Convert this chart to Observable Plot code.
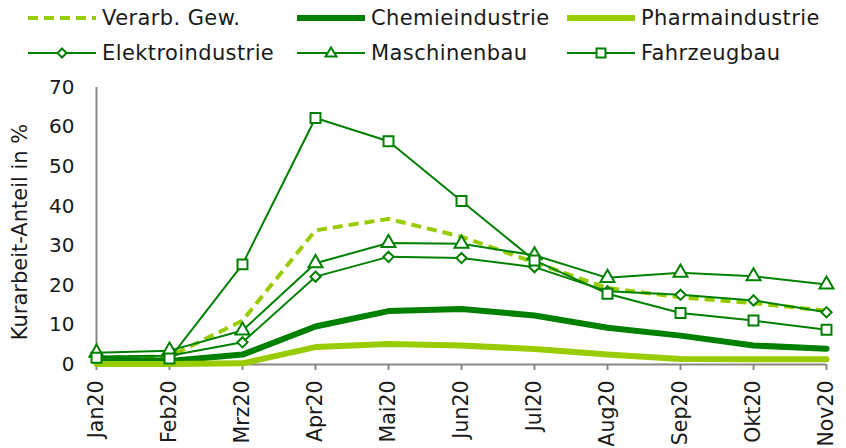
<!DOCTYPE html>
<html><head><meta charset="utf-8">
<script src="https://cdn.jsdelivr.net/npm/d3@7"></script>
<script src="https://cdn.jsdelivr.net/npm/@observablehq/plot@0.6"></script>
<style>
body{margin:0;background:#fff;font-family:"DejaVu Sans",Verdana,sans-serif;}
#wrap{width:846px;height:448px;position:relative;overflow:hidden}
#legend{position:relative;width:846px;height:70px;}
.item{position:absolute;display:flex;align-items:center;font-size:21px;letter-spacing:0.4px;color:#1a1a1a;white-space:nowrap;height:24px}
.item svg{margin-right:6px;display:block}
#chart svg{display:block}
</style></head><body>
<div id="wrap"><div id="legend"></div><div id="chart"></div></div>
<script>
const months = ["Jan20","Feb20","Mrz20","Apr20","Mai20","Jun20","Jul20","Aug20","Sep20","Okt20","Nov20"];
const yTicks = [0,10,20,30,40,50,60,70];
const yTitle = "Kurarbeit-Anteil in %";
const verarb    = [1.8, 2.0, 11.1, 33.9, 36.8, 32.3, 25.8, 19.3, 17.0, 15.5, 13.6];
const chemie    = [0.7, 0.9, 2.5, 9.6, 13.5, 14.0, 12.4, 9.3, 7.3, 4.8, 4.0];
const pharma    = [0.1, 0.1, 0.3, 4.4, 5.2, 4.8, 3.9, 2.5, 1.4, 1.3, 1.3];
const elektro   = [2.0, 2.2, 5.6, 22.2, 27.2, 26.9, 24.6, 18.5, 17.6, 16.2, 13.2];
const maschinen = [3.0, 3.5, 8.6, 25.6, 30.7, 30.5, 27.6, 21.9, 23.2, 22.3, 20.2];
const fahrzeug  = [1.7, 1.5, 25.3, 62.3, 56.4, 41.3, 26.3, 17.9, 13.0, 11.1, 8.8];
const seriesNames = ["Verarb. Gew.","Chemieindustrie","Pharmaindustrie","Elektroindustrie","Maschinenbau","Fahrzeugbau"];

const DARK = "#008000", LIGHT = "#99CC00";
const rows = arr => months.map((m, i) => ({month: m, value: arr[i]}));

const styles = [
  {data: verarb, stroke: LIGHT, width: 4, dash: "10,6"},
  {data: chemie, stroke: DARK, width: 6},
  {data: pharma, stroke: LIGHT, width: 6},
  {data: elektro, stroke: DARK, width: 2, symbol: "diamond2", r: 4.6},
  {data: maschinen, stroke: DARK, width: 2, symbol: "triangle", r: 5.2},
  {data: fahrzeug, stroke: DARK, width: 2, symbol: "square", r: 5.6}
];

// Legend
const legendPos = [[28,6],[297,6],[567,6],[28,41],[297,41],[567,41]];
const legend = document.getElementById("legend");
const symPaths = {
  "diamond2": "M34,7.5 L38.5,12 L34,16.5 L29.5,12 Z",
  "triangle": "M34,6.5 L39.5,15.5 L28.5,15.5 Z",
  "square": "M29.5,7.5 L38.5,7.5 L38.5,16.5 L29.5,16.5 Z"
};
styles.forEach((s, i) => {
  const div = document.createElement("div");
  div.className = "item";
  div.style.left = legendPos[i][0] + "px";
  div.style.top = legendPos[i][1] + "px";
  let svg = `<svg width="68" height="24"><line x1="0" x2="68" y1="12" y2="12" stroke="${s.stroke}" stroke-width="${s.width}" ${s.dash ? `stroke-dasharray="${s.dash}"` : ""} stroke-linecap="${s.width > 4 ? "round" : "butt"}"/>`;
  if (s.symbol) svg += `<path d="${symPaths[s.symbol]}" fill="white" stroke="${s.stroke}" stroke-width="2"/>`;
  svg += `</svg>`;
  div.innerHTML = svg + `<span>${seriesNames[i]}</span>`;
  legend.appendChild(div);
});

const marks = [
  Plot.ruleY([0], {stroke: "#888", strokeWidth: 2}),
  Plot.ruleX([months[0]], {stroke: "#888", strokeWidth: 2}),
  Plot.axisX({tickRotate: -90, tickSize: 6, tickPadding: 10, fontSize: 20.5, stroke: "#888", strokeWidth: 2, fill: "#1a1a1a", label: null}),
  Plot.axisY({ticks: yTicks, tickSize: 0, tickPadding: 22, fontSize: 20, fill: "#1a1a1a", label: null, style: {letterSpacing: "1px"}}),
  Plot.text([yTitle], {frameAnchor: "left", textAnchor: "middle", lineAnchor: "middle", rotate: -90, dx: -76, dy: 6, fontSize: 21, fill: "#1a1a1a", style: {letterSpacing: "0.4px"}})
];
styles.forEach(s => {
  marks.push(Plot.line(rows(s.data), {x: "month", y: "value", stroke: s.stroke, strokeWidth: s.width, strokeDasharray: s.dash, strokeLinejoin: "round", strokeLinecap: s.width > 4 ? "round" : "butt"}));
  if (s.symbol) marks.push(Plot.dot(rows(s.data), {x: "month", y: "value", symbol: s.symbol, r: s.r, fill: "white", stroke: s.stroke, strokeWidth: 2}));
});

const chart = Plot.plot({
  width: 846,
  height: 378,
  marginTop: 17,
  marginBottom: 84,
  marginLeft: 96,
  marginRight: 20,
  style: {fontFamily: "'DejaVu Sans', Verdana, sans-serif", color: "#1a1a1a", background: "white"},
  x: {type: "point", domain: months, padding: 0},
  y: {domain: [0, 70]},
  marks
});
document.getElementById("chart").appendChild(chart);
</script>
</body></html>
